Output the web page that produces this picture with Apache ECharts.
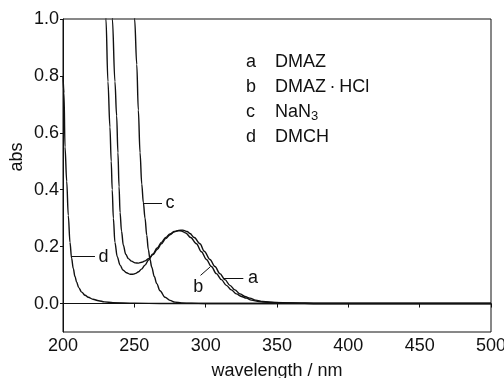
<!DOCTYPE html>
<html>
<head>
<meta charset="utf-8">
<script src="https://cdn.jsdelivr.net/npm/echarts@6/dist/echarts.min.js"></script>
<style>
html,body{margin:0;padding:0;background:#fff;}
#chart{width:504px;height:378px;}
</style>
</head>
<body>
<div id="chart"></div>
<script>
// ---- data ----
const xTicks = [200, 250, 300, 350, 400, 450, 500];
const yTicks = [0.0, 0.2, 0.4, 0.6, 0.8, 1.0];

const seriesNames = ['DMAZ', 'DMAZ·HCl', 'NaN3', 'DMCH'];
const seriesKeys = ['a', 'b', 'c', 'd'];

const dataA = [[234.0,1.08],[234.6,1.0],[236.4,0.78],[237.6,0.66],[238.5,0.53],[239.3,0.41],[240,0.32],[241,0.255],[242.3,0.205],[244,0.173],[245.8,0.158],[248,0.149],[250.5,0.143],[253,0.142],[255.2,0.145],[257.5,0.150],[260,0.158],[263,0.172],[266,0.19],[269,0.21],[272,0.228],[275,0.242],[278,0.252],[281,0.257],[284,0.258],[287,0.253],[289,0.246],[292,0.232],[296,0.21],[299,0.184],[303,0.155],[306.5,0.13],[310,0.105],[313.5,0.084],[317,0.064],[320.5,0.048],[324,0.034],[327.5,0.025],[331,0.019],[335,0.012],[340,0.007],[348,0.004],[360,0.002],[380,0],[500,0]];

const dataB = [[229.6,1.08],[230.1,1.0],[231.5,0.78],[232.9,0.62],[233.8,0.50],[234.5,0.40],[235.3,0.30],[236.4,0.215],[238,0.165],[240,0.135],[242,0.118],[244.5,0.108],[247,0.103],[249,0.103],[251,0.106],[253,0.112],[255,0.121],[257.5,0.135],[260,0.153],[263,0.174],[266,0.195],[269,0.215],[272,0.232],[275,0.245],[278,0.253],[281,0.256],[283,0.255],[286,0.248],[289.5,0.232],[293.5,0.21],[297,0.182],[300.5,0.155],[304,0.13],[307.5,0.105],[311,0.084],[314.5,0.064],[318,0.048],[321.5,0.034],[325,0.025],[328.5,0.019],[332,0.012],[337.5,0.007],[345,0.004],[358,0.002],[380,0],[500,0]];

const dataC = [[249.6,1.08],[250.2,1.0],[251.7,0.84],[252.8,0.68],[254,0.53],[255.2,0.42],[256.3,0.355],[257.5,0.30],[258.7,0.24],[259.8,0.19],[261,0.155],[262.2,0.128],[264,0.095],[265.7,0.07],[268,0.045],[271.5,0.022],[275,0.011],[278.5,0.005],[283,0.002],[290,0.001],[300,0],[500,0]];

const dataD = [[200,0.80],[200.7,0.74],[201.4,0.55],[202.6,0.43],[203.7,0.31],[204.9,0.215],[206,0.16],[207.2,0.123],[208.4,0.095],[209.6,0.075],[211,0.056],[213.1,0.04],[215.5,0.029],[217.7,0.022],[221,0.015],[225,0.01],[229,0.006],[235,0.003],[250,0.001],[270,0],[500,0]];

// leader lines (data coordinates) and their letter positions
const leaderA = [[312.4, 0.089], [326.4, 0.089]];
const leaderB = [[303.0, 0.128], [296.4, 0.099]];
const leaderC = [[256.1, 0.353], [269.4, 0.353]];
const leaderD = [[206.1, 0.165], [222.4, 0.165]];
const letterA = [333.2, 0.089];
const letterB = [294.8, 0.059];
const letterC = [275.0, 0.353];
const letterD = [228.4, 0.165];

// ---- chart ----
const FONT = '"Liberation Sans Narrow", "Arial Narrow", "Liberation Sans", Arial, sans-serif';
const chart = echarts.init(document.getElementById('chart'), null, {renderer: 'canvas'});

function curve(name, data, leader, letter, key) {
  return {
    name: name,
    type: 'line',
    data: data,
    showSymbol: false,
    symbol: 'none',
    smooth: 0.35,
    smoothMonotone: 'x',
    clip: true,
    lineStyle: {color: '#111', width: 1.4},
    animation: false,
    markLine: {
      silent: true,
      symbol: ['none', 'none'],
      animation: false,
      lineStyle: {color: '#111', width: 1, type: 'solid'},
      label: {show: false},
      data: [[{coord: leader[0]}, {coord: leader[1]}]]
    },
    markPoint: {
      silent: true,
      animation: false,
      symbol: 'circle',
      symbolSize: 0,
      label: {
        show: true, position: 'inside', formatter: key,
        color: '#111', fontFamily: FONT, fontSize: 18
      },
      data: [{coord: letter}]
    }
  };
}

const legendRowY = [63, 88, 113, 138];
const graphics = [];
seriesKeys.forEach((k, i) => {
  graphics.push({
    type: 'text', left: 246, top: legendRowY[i] - 10,
    style: {text: k, font: '18px ' + FONT, fill: '#111'}
  });
});
graphics.push({type: 'text', left: 275, top: legendRowY[0] - 10, style: {text: seriesNames[0], font: '18px ' + FONT, fill: '#111'}});
graphics.push({type: 'text', left: 275, top: legendRowY[1] - 10, style: {text: 'DMAZ\u2009·\u2009HCl', font: '18px ' + FONT, fill: '#111'}});
graphics.push({type: 'text', left: 275, top: legendRowY[2] - 10, style: {
  text: '{n|NaN}{s|3}',
  rich: {
    n: {fontFamily: FONT, fontSize: 18, fill: '#111', color: '#111'},
    s: {fontFamily: FONT, fontSize: 13, fill: '#111', color: '#111', padding: [8, 0, 0, 0]}
  }
}});
graphics.push({type: 'text', left: 275, top: legendRowY[3] - 10, style: {text: seriesNames[3], font: '18px ' + FONT, fill: '#111'}});
graphics.push({type: 'text', x: 17, y: 157, rotation: Math.PI / 2, style: {
  text: 'abs', font: '18px ' + FONT, fill: '#111', align: 'center', verticalAlign: 'middle'
}});

const option = {
  animation: false,
  backgroundColor: '#fff',
  grid: {left: 63, right: 13, top: 19, bottom: 46, show: true, borderColor: '#111', borderWidth: 1,
    containLabel: false, outerBoundsMode: 'none'},
  xAxis: {
    type: 'value', min: xTicks[0], max: xTicks[xTicks.length - 1], interval: 50,
    name: 'wavelength / nm', nameLocation: 'middle', nameGap: 30,
    nameTextStyle: {fontFamily: FONT, fontSize: 18, color: '#111'},
    axisLine: {show: true, lineStyle: {color: '#111', width: 1}},
    axisTick: {show: true, length: 4, lineStyle: {color: '#111'}},
    axisLabel: {color: '#111', fontFamily: FONT, fontSize: 18, margin: 5},
    splitLine: {show: false}
  },
  yAxis: {
    type: 'value', min: -0.1, max: 1.0,
    axisLine: {show: true, lineStyle: {color: '#111', width: 1}},
    axisTick: {show: true, length: 3, lineStyle: {color: '#111'}, customValues: yTicks},
    axisLabel: {color: '#111', fontFamily: FONT, fontSize: 18, margin: 4,
      customValues: yTicks, formatter: v => v.toFixed(1)},
    splitLine: {show: false}
  },
  graphic: graphics,
  series: [
    curve(seriesNames[0], dataA, leaderA, letterA, 'a'),
    curve(seriesNames[1], dataB, leaderB, letterB, 'b'),
    curve(seriesNames[2], dataC, leaderC, letterC, 'c'),
    curve(seriesNames[3], dataD, leaderD, letterD, 'd')
  ]
};
chart.setOption(option);
</script>
</body>
</html>
